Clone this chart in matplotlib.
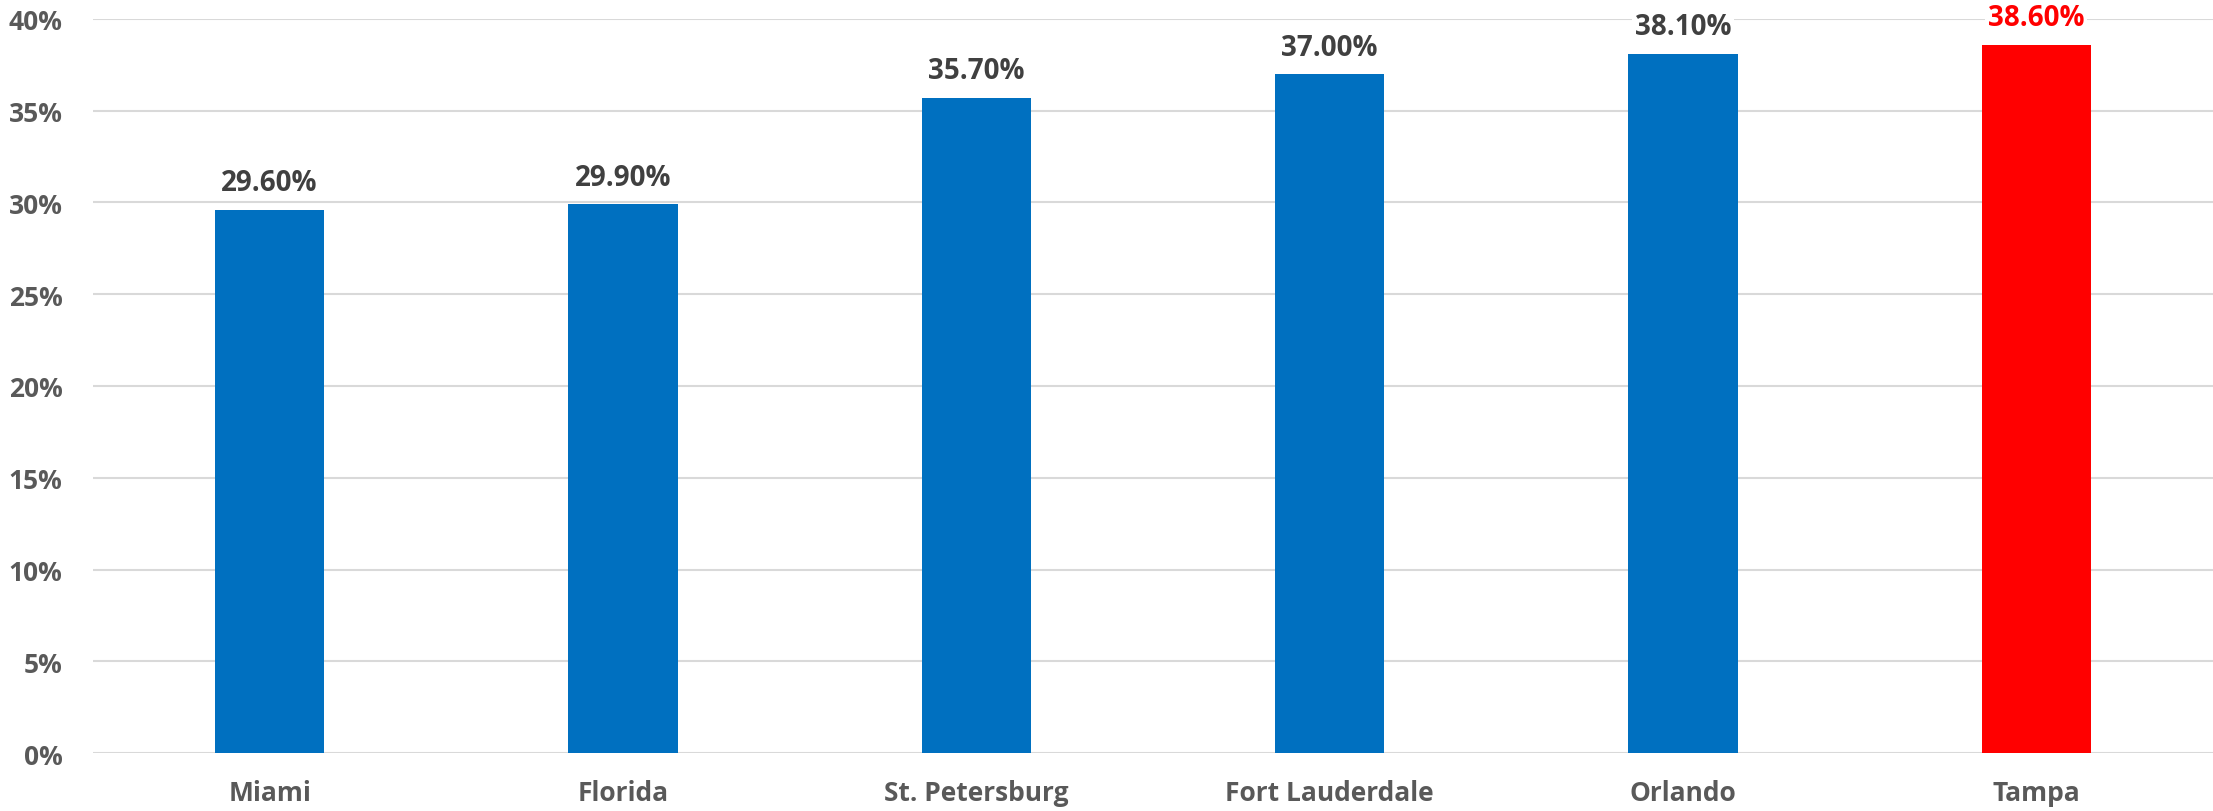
import numpy as np
import matplotlib.pyplot as plt
from matplotlib.ticker import FuncFormatter

plt.rcParams['font.family'] = ['Open Sans', 'DejaVu Sans']
plt.rcParams['font.weight'] = 'bold'

# data
cities = ['Miami', 'Florida', 'St. Petersburg', 'Fort Lauderdale', 'Orlando', 'Tampa']
rates = [29.6, 29.9, 35.7, 37.0, 38.1, 38.6]
colors = ['#0070C0'] * 5 + ['#FF0000']
label_colors = ['#404040'] * 5 + ['#FF0000']

fig = plt.figure(figsize=(22.13, 8.12), dpi=100)
ax = fig.add_axes([0.042, 0.0714, 0.958, 0.904])

x = np.arange(len(cities))
ax.bar(x, rates, width=0.31, color=colors, zorder=3)

# value labels above bars
for xi, v, c in zip(x, rates, label_colors):
    ax.annotate(f'{v:.2f}%', (xi, v), xytext=(0, 9), textcoords='offset points',
                ha='center', va='bottom', fontsize=20, fontweight='bold', color=c,
                bbox=dict(boxstyle='square,pad=0.1', fc='white', ec='none'), zorder=4)

ax.set_ylim(0, 40)
ax.set_xlim(-0.5, 5.5)
ax.set_yticks(np.arange(0, 41, 5))
ax.yaxis.set_major_formatter(FuncFormatter(lambda v, p: f'{v:.0f}%'))
ax.set_xticks(x)
ax.set_xticklabels(cities, fontweight='bold')
for t in ax.get_yticklabels():
    t.set_fontweight('bold')

ax.grid(axis='y', color='#D9D9D9', linewidth=1.5, zorder=0)
for s in ax.spines.values():
    s.set_visible(False)
ax.tick_params(axis='both', length=0, labelsize=19, labelcolor='#595959')
ax.tick_params(axis='y', pad=22)
ax.tick_params(axis='x', pad=19)

plt.savefig('out.png', dpi=100)
